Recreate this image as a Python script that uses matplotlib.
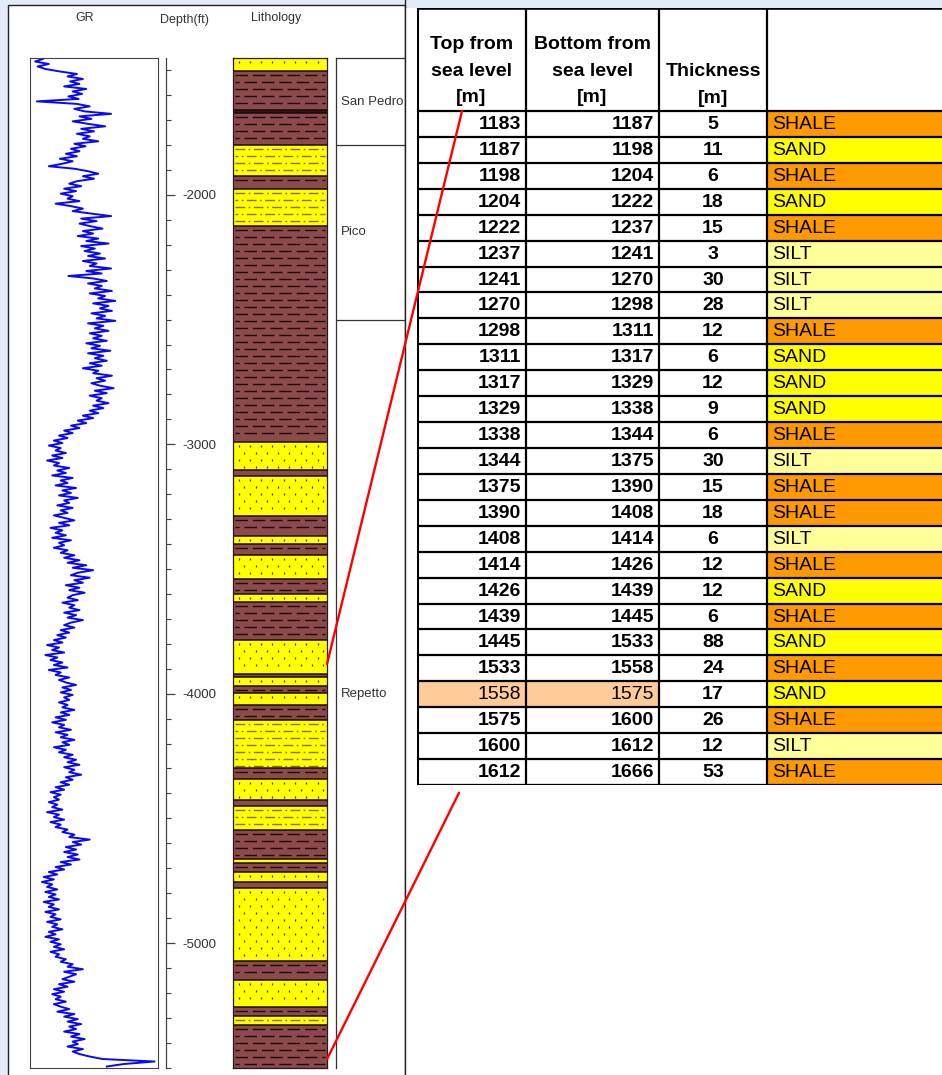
import matplotlib
matplotlib.use('Agg')
import matplotlib.pyplot as plt
from matplotlib.patches import Rectangle, ConnectionPatch
from matplotlib.ticker import MultipleLocator
from matplotlib import font_manager
import numpy as np

# ---- interpretation table (metres below sea level) ----
top_m = [1183, 1187, 1198, 1204, 1222, 1237, 1241, 1270, 1298, 1311, 1317, 1329, 1338,
         1344, 1375, 1390, 1408, 1414, 1426, 1439, 1445, 1533, 1558, 1575, 1600, 1612]
bottom_m = [1187, 1198, 1204, 1222, 1237, 1241, 1270, 1298, 1311, 1317, 1329, 1338, 1344,
            1375, 1390, 1408, 1414, 1426, 1439, 1445, 1533, 1558, 1575, 1600, 1612, 1666]
thickness_m = [5, 11, 6, 18, 15, 3, 30, 28, 12, 6, 12, 9, 6,
               30, 15, 18, 6, 12, 12, 6, 88, 24, 17, 26, 12, 53]
rock = ['SHALE', 'SAND', 'SHALE', 'SAND', 'SHALE', 'SILT', 'SILT', 'SILT', 'SHALE',
        'SAND', 'SAND', 'SAND', 'SHALE', 'SILT', 'SHALE', 'SHALE', 'SILT', 'SHALE',
        'SAND', 'SHALE', 'SAND', 'SHALE', 'SAND', 'SHALE', 'SILT', 'SHALE']
highlight_row = 22
headers = ['Top from\nsea level\n[m]', 'Bottom from\nsea level\n[m]', 'Thickness\n[m]', '']

# ---- well log (depth in ft) ----
depth_top, depth_base = 1451, 5501
depth_major = [2000, 3000, 4000, 5000]
depth_labels = ['-2000', '-3000', '-4000', '-5000']

formations = ['San Pedro', 'Pico', 'Repetto']
form_top_ft = [1451, 1800, 2501]
form_base_ft = [1800, 2501, 5501]

litho_top_ft = [1451, 1503, 1659, 1671, 1800, 1924, 1976, 2124, 2990, 3102, 3126, 3287,
                3367, 3399, 3443, 3539, 3599, 3631, 3784, 3920, 3932, 3968, 3996, 4044,
                4104, 4297, 4341, 4425, 4449, 4545, 4661, 4677, 4717, 4754, 4778, 5070,
                5150, 5255, 5291, 5327]
litho_base_ft = [1503, 1659, 1671, 1800, 1924, 1976, 2124, 2990, 3102, 3126, 3287, 3367,
                 3399, 3443, 3539, 3599, 3631, 3784, 3920, 3932, 3968, 3996, 4044, 4104,
                 4297, 4341, 4425, 4449, 4545, 4661, 4677, 4717, 4754, 4778, 5070, 5150,
                 5255, 5291, 5327, 5501]
litho_type = ['sand', 'shale', 'coal', 'shale', 'silty', 'shale', 'silty', 'shale',
              'sand', 'shale', 'sand', 'shale', 'sand', 'shale', 'sand', 'shale',
              'sand', 'shale', 'sand', 'shale', 'sand', 'shale', 'sand', 'shale',
              'silty', 'shale', 'sand', 'shale', 'silty', 'shale', 'sand', 'shale',
              'sand', 'shale', 'sand', 'shale', 'sand', 'shale', 'silty', 'shale']

# gamma ray (API), read every 10 ft from 1455 ft
gr_start_ft, gr_step_ft = 1455, 10
gr_api = [15, 6, 22, 9, 18, 35, 55, 44, 62, 47, 58, 40, 66, 50, 61, 45, 57, 8, 55, 70,
          52, 64, 95, 58, 72, 50, 68, 88, 60, 75, 55, 70, 62, 80, 52, 65, 48, 58, 42, 55,
          35, 50, 38, 22, 52, 68, 80, 62, 75, 55, 46, 60, 40, 54, 36, 50, 44, 58, 30, 48,
          62, 50, 72, 95, 60, 78, 58, 70, 85, 62, 74, 56, 80, 66, 92, 60, 76, 64, 82, 68,
          88, 62, 78, 70, 95, 66, 84, 45, 74, 90, 68, 84, 76, 96, 70, 88, 80, 100, 74, 92,
          82, 96, 72, 88, 78, 100, 68, 86, 76, 92, 70, 84, 74, 90, 66, 82, 72, 94, 68, 86,
          76, 90, 70, 84, 62, 80, 74, 96, 78, 88, 72, 82, 98, 76, 90, 70, 84, 78, 92, 74,
          86, 70, 80, 62, 74, 56, 66, 48, 58, 40, 50, 34, 44, 28, 38, 22, 36, 30, 42, 26,
          38, 20, 34, 28, 46, 32, 42, 26, 50, 36, 44, 30, 54, 38, 48, 34, 56, 40, 46, 32,
          50, 36, 44, 28, 40, 52, 34, 46, 24, 38, 30, 42, 26, 48, 34, 40, 28, 44, 36, 52,
          40, 58, 44, 66, 50, 74, 56, 48, 70, 52, 62, 42, 58, 46, 64, 50, 44, 56, 38, 52,
          46, 58, 40, 54, 44, 62, 48, 40, 52, 36, 46, 32, 42, 28, 38, 20, 34, 26, 40, 18,
          32, 24, 38, 28, 44, 22, 36, 30, 46, 34, 42, 54, 38, 48, 36, 50, 40, 46, 34, 44,
          38, 52, 36, 46, 30, 42, 26, 40, 34, 48, 30, 44, 36, 52, 38, 46, 28, 42, 34, 50,
          40, 54, 44, 58, 40, 52, 46, 60, 42, 50, 36, 46, 30, 40, 24, 36, 28, 34, 22, 32,
          26, 38, 20, 34, 28, 40, 24, 36, 30, 44, 38, 52, 46, 70, 50, 60, 42, 54, 40, 56,
          44, 58, 36, 48, 30, 40, 22, 32, 16, 28, 14, 26, 20, 32, 18, 30, 22, 34, 16, 28,
          22, 34, 18, 30, 24, 36, 20, 32, 26, 38, 22, 30, 18, 34, 24, 36, 28, 40, 24, 34,
          30, 42, 36, 50, 44, 62, 40, 54, 46, 38, 52, 34, 44, 28, 40, 26, 36, 30, 42, 28,
          36, 46, 32, 52, 40, 56, 44, 60, 46, 54, 40, 58, 48, 64, 50, 56, 44, 62, 50, 58,
          70, 85, 146, 110, 90]
gr_depth = gr_start_ft + gr_step_ft * np.arange(len(gr_api))

# ---- fonts ----
names = {f.name for f in font_manager.fontManager.ttflist}
if 'Liberation Sans Narrow' in names:
    NARROW, hdr_fs, lab_fs = 'Liberation Sans Narrow', 10, 11
else:
    NARROW, hdr_fs, lab_fs = 'Liberation Sans', 9, 9.5
TABF = 'Liberation Sans'
plt.rcParams['font.family'] = [TABF, 'DejaVu Sans']

W, H = 942, 1075
fig = plt.figure(figsize=(W / 100, H / 100), dpi=100, facecolor='#E2EBF7')


def px_axes(x0, y0, x1, y1):
    return fig.add_axes([x0 / W, 1 - y1 / H, (x1 - x0) / W, (y1 - y0) / H])


# background frames
bg = px_axes(0, 0, W, H)
bg.set_xlim(0, W)
bg.set_ylim(H, 0)
bg.axis('off')
bg.add_patch(Rectangle((8, 5), 397, H, facecolor='white', edgecolor='#222', lw=1))
bg.add_patch(Rectangle((406, 8), W, H, facecolor='white', edgecolor='none'))
bg.text(85, 18, 'GR', family=NARROW, fontsize=hdr_fs, color='#333', ha='center', va='center')
bg.text(184, 20, 'Depth(ft)', family=NARROW, fontsize=hdr_fs, color='#333', ha='center', va='center')
bg.text(276, 18, 'Lithology', family=NARROW, fontsize=hdr_fs, color='#333', ha='center', va='center')

# GR track
gr = px_axes(30, 58, 158, 1068)
gr.plot(gr_api, gr_depth, color='#0A0AF0', lw=1.4)
gr.set_xlim(0, 150)
gr.set_ylim(depth_base, depth_top)
gr.set_xticks([])
gr.set_yticks([])
for s in gr.spines.values():
    s.set_color('#444')
    s.set_linewidth(0.8)

# depth axis
dax = px_axes(120, 58, 166, 1068)
dax.patch.set_visible(False)
for side in ['left', 'top', 'bottom']:
    dax.spines[side].set_visible(False)
dax.spines['right'].set_color('#444')
dax.spines['right'].set_linewidth(0.9)
dax.set_ylim(depth_base, depth_top)
dax.set_xticks([])
dax.yaxis.tick_right()
dax.set_yticks(depth_major)
dax.set_yticklabels(depth_labels, family=NARROW, fontsize=lab_fs, color='#333')
dax.yaxis.set_minor_locator(MultipleLocator(100))
dax.tick_params(axis='y', which='major', direction='out', length=6.5, width=0.9,
                color='#444', pad=5)
dax.tick_params(axis='y', which='minor', direction='out', length=3.5, width=0.8, color='#444')

# lithology column
lith = px_axes(233, 58, 327, 1068)
lith.set_xlim(0, 1)
lith.set_ylim(depth_base, depth_top)
lith.set_xticks([])
lith.set_yticks([])
for s in lith.spines.values():
    s.set_color('#2a1a1a')
    s.set_linewidth(0.9)

fill = {'shale': '#8C4A4C', 'sand': '#FFFF00', 'silty': '#FFFF00', 'coal': '#3A1212'}
fpp = (depth_base - depth_top) / 1010.0  # ft per pixel
for top, base, kind in zip(litho_top_ft, litho_base_ft, litho_type):
    lith.axhspan(top, base, color=fill[kind], lw=0)
    rows = np.arange(top + 4 * fpp, base - 2 * fpp, 7 * fpp)
    if kind in ('shale', 'coal'):
        col = '#1E0808' if kind == 'shale' else '#C9B464'
        for k, y in enumerate(rows):
            lith.hlines(y, 0.02, 0.98, colors=col, lw=1.0,
                        linestyles=[((k % 2) * 6, (9, 3.5))])
    elif kind == 'sand':
        for k, y in enumerate(rows):
            xs = np.arange(0.06 + (k % 2) * 0.06, 0.97, 0.12)
            lith.scatter(xs, np.full(xs.shape, y), marker='|', s=3.5, color='#333',
                         linewidths=0.9)
    else:
        for k, y in enumerate(rows):
            lith.hlines(y, 0.02, 0.98, colors='#8A6A14', lw=1.0,
                        linestyles=[((k % 2) * 5, (7, 2.5, 1.2, 2.5))])
    lith.axhline(top, color='#1A0A0A', lw=1.1)

# formations
fm = px_axes(336, 58, 405, 1068)
fm.set_xlim(0, 1)
fm.set_ylim(depth_base, depth_top)
fm.set_xticks([])
fm.set_yticks([])
fm.patch.set_visible(False)
for side in ['right', 'bottom']:
    fm.spines[side].set_visible(False)
for side in ['left', 'top']:
    fm.spines[side].set_color('#333')
    fm.spines[side].set_linewidth(0.9)
for name, t, b in zip(formations, form_top_ft, form_base_ft):
    if t > depth_top:
        fm.axhline(t, color='#333', lw=0.9)
    fm.text(0.07, (t + b) / 2, name, family=NARROW, fontsize=lab_fs, color='#333',
            ha='left', va='center')

# panel divider
bg.axvline(405, color='#222', lw=1)

# table
col_w = [109, 133, 108, 200]
edges = np.concatenate([[0], np.cumsum(col_w)])
n = len(top_m)
hdr = 103 / 25.92
tab = px_axes(417, 8, 417 + edges[-1], 785)
tab.set_xlim(0, edges[-1])
tab.set_ylim(n, -hdr)
tab.axis('off')

rock_col = {'SHALE': '#FF9900', 'SAND': '#FFFF00', 'SILT': '#FFFF99'}
for i in range(n):
    if i == highlight_row:
        tab.add_patch(Rectangle((edges[0], i), edges[2] - edges[0], 1,
                                facecolor='#FFCC99', lw=0))
    tab.add_patch(Rectangle((edges[3], i), col_w[3], 1, facecolor=rock_col[rock[i]], lw=0))
    w = 'normal' if i == highlight_row else 'bold'
    tab.text(edges[1] - 5, i + 0.52, str(top_m[i]), ha='right', va='center',
             fontsize=14, weight=w, family=TABF)
    tab.text(edges[2] - 5, i + 0.52, str(bottom_m[i]), ha='right', va='center',
             fontsize=14, weight=w, family=TABF)
    tab.text((edges[2] + edges[3]) / 2, i + 0.52, str(thickness_m[i]), ha='center',
             va='center', fontsize=14, weight='bold', family=TABF)
    tab.text(edges[3] + 5, i + 0.52, rock[i], ha='left', va='center', fontsize=14,
             family=TABF)

for j, h in enumerate(headers):
    if h:
        nl = h.count('\n') + 1
        yc = -hdr + (63 if nl == 3 else 77) / 25.92
        tab.text((edges[j] + edges[j + 1]) / 2, yc, h, ha='center', va='center',
                 fontsize=14, weight='bold', family=TABF, linespacing=1.75)

tab.hlines(np.arange(0, n + 1), 0, edges[-1], colors='black', lw=1.6)
tab.hlines([-hdr], 0, edges[-1], colors='black', lw=2.6)
tab.hlines([n], 0, edges[-1], colors='black', lw=2.2)
tab.vlines(edges[1:4], -hdr, n, colors='black', lw=1.6)
tab.vlines([0], -hdr, n, colors='black', lw=2.2)

# red tie lines from the table to the log
for ya, d_m, xa in [(0, top_m[0], 45), (n + 0.3, bottom_m[-1], 42)]:
    con = ConnectionPatch(xyA=(xa, ya), coordsA=tab.transData,
                          xyB=(1, d_m * 3.28084), coordsB=lith.transData,
                          color='#FF0000', lw=1.7)
    fig.add_artist(con)

fig.savefig('out.png', dpi=100, facecolor=fig.get_facecolor())
